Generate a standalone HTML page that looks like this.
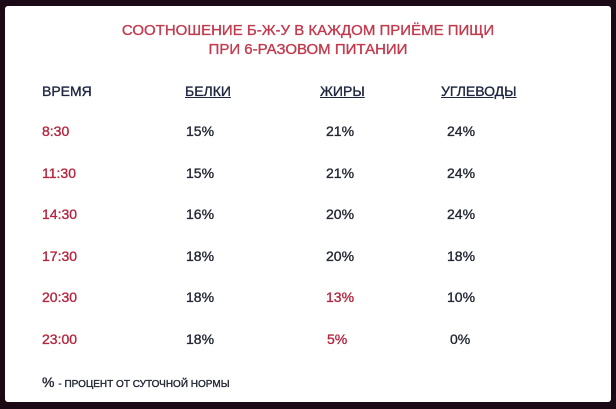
<!DOCTYPE html>
<html><head><meta charset="utf-8"><style>
html,body{margin:0;padding:0;width:616px;height:409px;background:#1b0a16;overflow:hidden}
#w{position:absolute;left:5px;top:6px;width:606px;height:396px;background:#fff;border-radius:3px}
.t{position:absolute;font-family:"Liberation Sans","DejaVu Sans",sans-serif;white-space:nowrap;line-height:1;-webkit-text-stroke:0.35px}
.ti{color:#c23a4e;font-size:15px;left:0;width:616px;text-align:center}
.h{color:#1e2640;font-size:14px}
.u{text-decoration:underline}
.r{color:#b5263f;font-size:14px}
.v{color:#222733;font-size:14px}
</style></head><body>
<div id="w"></div>
<div class="t ti" style="top:23px">СООТНОШЕНИЕ Б-Ж-У В КАЖДОМ ПРИЁМЕ ПИЩИ</div>
<div class="t ti" style="top:42px">ПРИ 6-РАЗОВОМ ПИТАНИИ</div>
<div class="t h" style="left:42px;top:84px">ВРЕМЯ</div>
<div class="t h u" style="left:185px;top:84px">БЕЛКИ</div>
<div class="t h u" style="left:320px;top:84px">ЖИРЫ</div>
<div class="t h u" style="left:441px;top:84px">УГЛЕВОДЫ</div>
<div class="t r" style="left:42px;top:124px">8:30</div><div class="t v" style="left:186px;top:124px">15%</div><div class="t v" style="left:326px;top:124px">21%</div><div class="t v" style="left:447px;top:124px">24%</div>
<div class="t r" style="left:42px;top:166px">11:30</div><div class="t v" style="left:186px;top:166px">15%</div><div class="t v" style="left:326px;top:166px">21%</div><div class="t v" style="left:447px;top:166px">24%</div>
<div class="t r" style="left:42px;top:207px">14:30</div><div class="t v" style="left:186px;top:207px">16%</div><div class="t v" style="left:326px;top:207px">20%</div><div class="t v" style="left:447px;top:207px">24%</div>
<div class="t r" style="left:42px;top:249px">17:30</div><div class="t v" style="left:186px;top:249px">18%</div><div class="t v" style="left:326px;top:249px">20%</div><div class="t v" style="left:447px;top:249px">18%</div>
<div class="t r" style="left:42px;top:290px">20:30</div><div class="t v" style="left:186px;top:290px">18%</div><div class="t r" style="left:326px;top:290px">13%</div><div class="t v" style="left:447px;top:290px">10%</div>
<div class="t r" style="left:42px;top:332px">23:00</div><div class="t v" style="left:186px;top:332px">18%</div><div class="t r" style="left:327px;top:332px">5%</div><div class="t v" style="left:450px;top:332px">0%</div>
<div class="t v" style="left:42px;top:375px;font-size:14px">% <span style="font-size:10px">- ПРОЦЕНТ ОТ СУТОЧНОЙ НОРМЫ</span></div>
</body></html>
